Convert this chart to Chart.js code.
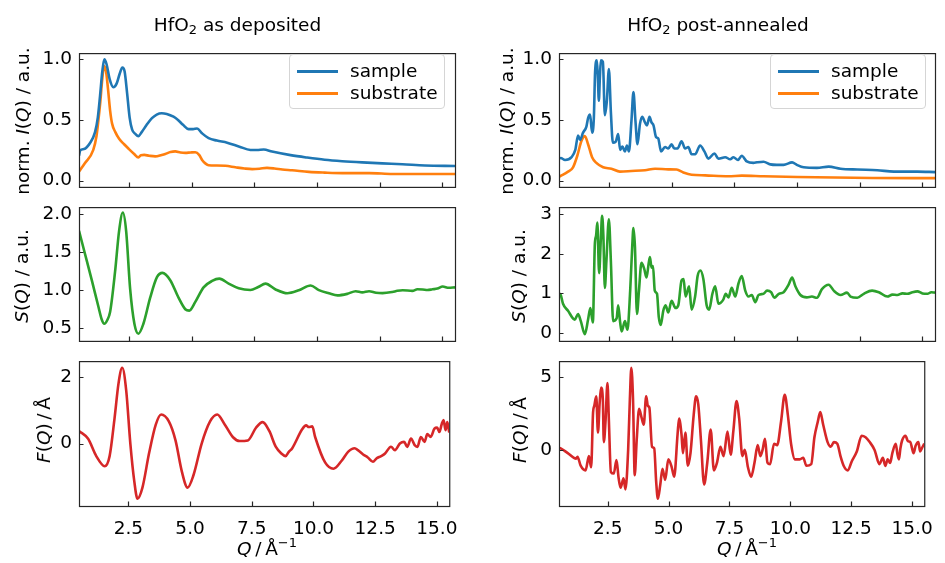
<!DOCTYPE html>
<html>
<head>
<meta charset="utf-8">
<script src="https://cdn.jsdelivr.net/npm/chart.js@4/dist/chart.umd.min.js"></script>
<style>
  html, body { margin: 0; padding: 0; background: #fff; }
  #fig { position: relative; width: 945px; height: 563px; overflow: hidden; font-family: "DejaVu Sans", sans-serif; font-size: 18.5px; color: #000; }
  .box { position: absolute; }
  .lbl { position: absolute; white-space: nowrap; line-height: 22px; transform: translate(-50%, -50%); }
  .rot { transform: translate(-50%, -50%) rotate(-90deg); }
  .legend { position: absolute; width: 156px; height: 55px; box-sizing: border-box; border: 1px solid #d5d5d5; border-radius: 4px; background: rgba(255,255,255,0.8); }
  .legend .ln { position: absolute; left: 7px; width: 41px; height: 3px; }
  .legend .tx { position: absolute; left: 60px; line-height: 22px; transform: translateY(-50%); }
  sub { font-size: 13px; vertical-align: -3px; line-height: 0; }
  sup { font-size: 13px; vertical-align: 8px; line-height: 0; }
</style>
</head>
<body>
<div id="fig"></div>
<script>
// Q axis (same for every panel)
const qMin = 0.5, qMax = 15.5;
const qTicks = [2.5, 5, 7.5, 10, 12.5, 15];

// tick values per panel
const ticksI = [0, 0.5, 1.0];
const ticksDepS = [0.5, 1.0, 1.5, 2.0];
const ticksAnnS = [0, 1, 2, 3];
const ticksDepF = [0, 2];
const ticksAnnF = [0, 5];

// HfO2 as deposited: [Q, value]
const depSample = [[0.5,0.205],[0.55,0.25],[0.7,0.26],[0.94,0.31],[1.14,0.40],[1.25,0.52],[1.34,0.70],[1.43,0.90],[1.51,1.0],[1.6,0.96],[1.72,0.84],[1.87,0.77],[2.0,0.80],[2.12,0.88],[2.23,0.933],[2.32,0.90],[2.42,0.72],[2.52,0.52],[2.62,0.42],[2.75,0.385],[2.87,0.367],[3.0,0.40],[3.2,0.46],[3.41,0.515],[3.6,0.545],[3.8,0.556],[4.0,0.55],[4.27,0.527],[4.45,0.50],[4.65,0.46],[4.87,0.425],[5.05,0.425],[5.21,0.43],[5.41,0.39],[5.67,0.35],[6.0,0.33],[6.41,0.313],[6.9,0.28],[7.34,0.253],[7.6,0.252],[7.87,0.256],[8.2,0.24],[8.94,0.21],[9.6,0.19],[10.3,0.172],[11.0,0.16],[11.8,0.15],[12.6,0.142],[13.4,0.135],[14.3,0.125],[15.5,0.12]];
const depSubstrate = [[0.5,0.074],[0.74,0.145],[1.07,0.253],[1.2,0.37],[1.27,0.49],[1.35,0.65],[1.42,0.82],[1.5,0.945],[1.58,0.90],[1.66,0.75],[1.74,0.58],[1.82,0.47],[1.95,0.40],[2.1,0.345],[2.3,0.30],[2.47,0.265],[2.7,0.22],[2.87,0.191],[2.97,0.21],[3.1,0.212],[3.3,0.205],[3.54,0.20],[3.8,0.212],[3.94,0.22],[4.15,0.236],[4.34,0.241],[4.55,0.232],[4.74,0.229],[4.95,0.232],[5.14,0.234],[5.3,0.21],[5.41,0.17],[5.55,0.14],[5.67,0.127],[6.0,0.125],[6.34,0.122],[6.74,0.11],[7.1,0.1],[7.41,0.095],[7.7,0.098],[8.0,0.105],[8.3,0.1],[8.61,0.091],[9.0,0.085],[9.67,0.072],[10.3,0.066],[11.01,0.062],[12.07,0.062],[13.0,0.055],[14.2,0.054],[15.5,0.055]];
const depS = [[0.5,1.78],[0.74,1.475],[1.01,1.13],[1.27,0.787],[1.4,0.62],[1.51,0.557],[1.62,0.6],[1.74,0.71],[1.94,1.245],[2.1,1.78],[2.25,2.02],[2.38,1.78],[2.54,1.016],[2.71,0.557],[2.87,0.425],[3.07,0.557],[3.34,0.9],[3.61,1.17],[3.83,1.226],[4.14,1.13],[4.47,0.9],[4.74,0.748],[4.9,0.73],[5.14,0.844],[5.47,1.035],[5.81,1.12],[6.1,1.15],[6.47,1.085],[6.87,1.023],[7.34,1.0],[7.65,1.04],[7.94,1.085],[8.34,1.008],[8.81,0.958],[9.27,0.997],[9.74,1.06],[10.07,1.0],[10.47,0.958],[10.81,0.93],[11.2,0.95],[11.54,0.985],[11.8,0.97],[12.07,0.985],[12.35,0.965],[12.61,0.96],[13.0,0.975],[13.2,0.99],[13.41,0.997],[13.8,0.99],[14.0,1.01],[14.21,1.008],[14.4,1.0],[14.6,1.01],[14.8,1.02],[15.01,1.046],[15.25,1.03],[15.5,1.035]];
const depF = [[0.5,0.38],[0.87,0.143],[1.2,-0.38],[1.54,-0.686],[1.74,-0.38],[1.94,0.76],[2.1,1.81],[2.25,2.29],[2.41,1.62],[2.58,0],[2.74,-1.14],[2.87,-1.667],[3.07,-1.33],[3.34,-0.286],[3.61,0.571],[3.83,0.876],[4.14,0.667],[4.41,0.095],[4.67,-0.857],[4.9,-1.33],[5.14,-0.95],[5.47,0],[5.81,0.667],[6.1,0.876],[6.41,0.57],[6.74,0.19],[7.01,0.076],[7.34,0.095],[7.67,0.476],[7.94,0.648],[8.21,0.38],[8.47,-0.095],[8.7,-0.3],[8.87,-0.38],[9.0,-0.25],[9.14,-0.14],[9.54,0.43],[9.7,0.55],[9.81,0.5],[9.95,0.52],[10.07,0.19],[10.47,-0.57],[10.81,-0.76],[11.14,-0.52],[11.4,-0.25],[11.67,-0.14],[11.8,-0.2],[12.01,-0.33],[12.2,-0.42],[12.41,-0.55],[12.55,-0.45],[12.74,-0.38],[12.9,-0.3],[13.14,-0.095],[13.3,-0.2],[13.5,0.0],[13.67,0.05],[13.8,-0.1],[13.95,0.15],[14.1,-0.05],[14.21,-0.1],[14.35,0.2],[14.5,0.05],[14.61,0.286],[14.75,0.2],[14.9,0.45],[15.01,0.48],[15.1,0.35],[15.2,0.6],[15.27,0.71],[15.35,0.4],[15.42,0.65],[15.5,0.33]];

// HfO2 post-annealed: [Q, value]
const annSample = [[0.5,0.18],[0.57,0.186],[0.74,0.17],[1.0,0.193],[1.15,0.253],[1.26,0.372],[1.34,0.336],[1.46,0.396],[1.59,0.444],[1.66,0.515],[1.74,0.544],[1.82,0.396],[1.89,0.515],[1.94,0.897],[2.01,0.993],[2.05,0.85],[2.09,0.659],[2.13,0.85],[2.17,0.993],[2.25,0.98],[2.33,0.539],[2.41,0.659],[2.49,0.921],[2.57,0.563],[2.65,0.313],[2.76,0.32],[2.86,0.384],[2.94,0.253],[3.03,0.281],[3.13,0.241],[3.21,0.29],[3.29,0.241],[3.39,0.492],[3.47,0.73],[3.55,0.492],[3.63,0.3],[3.73,0.468],[3.82,0.527],[3.93,0.48],[4.01,0.456],[4.11,0.527],[4.19,0.48],[4.27,0.456],[4.37,0.36],[4.46,0.348],[4.57,0.241],[4.73,0.277],[4.86,0.265],[4.99,0.30],[5.1,0.265],[5.23,0.265],[5.39,0.325],[5.53,0.265],[5.66,0.277],[5.79,0.217],[5.93,0.217],[6.13,0.29],[6.3,0.241],[6.46,0.181],[6.7,0.224],[6.86,0.181],[7.13,0.193],[7.33,0.176],[7.46,0.193],[7.64,0.17],[7.79,0.205],[7.99,0.158],[8.26,0.146],[8.4,0.151],[8.66,0.156],[8.93,0.134],[9.19,0.13],[9.46,0.13],[9.8,0.15],[9.99,0.13],[10.26,0.11],[10.79,0.105],[11.26,0.115],[11.73,0.098],[12.4,0.091],[13.2,0.086],[13.86,0.074],[14.8,0.074],[15.5,0.07]];
const annSubstrate = [[0.5,0.03],[0.57,0.038],[0.86,0.074],[1.06,0.11],[1.23,0.205],[1.39,0.325],[1.53,0.367],[1.66,0.30],[1.82,0.193],[1.99,0.146],[2.26,0.11],[2.59,0.098],[2.93,0.074],[3.39,0.079],[3.93,0.086],[4.33,0.098],[4.86,0.093],[5.19,0.091],[5.46,0.067],[5.79,0.048],[6.33,0.043],[7.26,0.036],[7.79,0.041],[8.66,0.036],[10.0,0.03],[11.5,0.025],[13.0,0.022],[15.5,0.02]];
const annS = [[0.5,1.0],[0.57,0.96],[0.66,0.74],[0.86,0.56],[1.13,0.338],[1.26,0.48],[1.37,0.30],[1.53,-0.03],[1.66,0.34],[1.75,0.63],[1.85,0.265],[1.93,2.24],[1.98,2.46],[2.03,2.79],[2.1,1.51],[2.17,2.39],[2.22,2.96],[2.27,2.46],[2.33,1.14],[2.39,1.8],[2.49,2.87],[2.57,1.8],[2.66,0.30],[2.8,0.37],[2.86,0.70],[2.94,0.265],[3.0,0.04],[3.13,0.30],[3.23,0.08],[3.34,1.07],[3.42,2.17],[3.47,2.65],[3.53,2.17],[3.61,0.48],[3.69,1.07],[3.79,1.77],[3.9,1.62],[3.99,1.40],[4.08,1.77],[4.13,1.92],[4.19,1.65],[4.25,1.69],[4.32,1.07],[4.41,0.99],[4.48,0.41],[4.56,0.20],[4.66,0.56],[4.75,0.70],[4.86,0.52],[4.99,0.81],[5.15,0.63],[5.26,0.70],[5.39,1.33],[5.47,1.36],[5.55,0.92],[5.69,1.18],[5.79,0.59],[5.93,0.92],[6.03,1.44],[6.14,1.58],[6.26,1.36],[6.39,0.70],[6.49,0.59],[6.62,0.99],[6.73,1.18],[6.86,0.74],[7.06,0.85],[7.15,0.99],[7.26,0.90],[7.39,1.14],[7.53,0.92],[7.66,1.25],[7.79,1.44],[7.93,1.07],[8.06,0.92],[8.19,0.96],[8.33,0.78],[8.46,0.96],[8.66,0.99],[8.8,1.07],[8.96,1.03],[9.09,0.89],[9.27,0.99],[9.46,1.03],[9.66,1.22],[9.8,1.40],[9.93,1.18],[10.13,0.96],[10.39,0.90],[10.59,0.92],[10.79,0.89],[10.99,1.11],[11.26,1.22],[11.46,1.07],[11.73,0.96],[11.99,1.02],[12.13,0.92],[12.4,0.89],[12.66,0.99],[12.99,1.07],[13.26,1.03],[13.6,0.92],[13.8,0.97],[14.0,0.96],[14.2,1.0],[14.4,0.99],[14.6,1.03],[14.8,1.05],[15.0,1.0],[15.2,0.99],[15.35,1.03],[15.5,1.02]];
const annF = [[0.5,0.15],[0.57,0.11],[0.86,-0.22],[1.2,-0.6],[1.26,-0.47],[1.39,-1.09],[1.59,-1.41],[1.73,-0.43],[1.82,-1.2],[1.9,2.61],[1.95,3.04],[2.03,3.70],[2.1,1.2],[2.17,3.26],[2.23,4.31],[2.3,3.48],[2.34,0.54],[2.41,1.96],[2.49,4.61],[2.55,1.96],[2.63,-1.52],[2.75,-1.63],[2.86,-0.7],[2.95,-1.96],[3.03,-2.61],[3.15,-1.96],[3.23,-2.72],[3.34,0],[3.41,3.48],[3.47,5.66],[3.54,3.48],[3.61,-1.74],[3.69,0.65],[3.79,2.83],[3.9,2.17],[3.98,1.74],[4.08,3.70],[4.15,3.04],[4.21,2.93],[4.32,0.22],[4.41,0.11],[4.49,-2.17],[4.56,-3.37],[4.66,-2.39],[4.75,-1.3],[4.86,-2.07],[4.99,-0.65],[5.13,-1.2],[5.23,-1.85],[5.37,1.09],[5.43,2.17],[5.53,1.09],[5.59,-0.22],[5.69,1.2],[5.79,-1.09],[5.9,-0.22],[6.03,2.39],[6.13,3.70],[6.22,3.15],[6.33,0.65],[6.46,-2.39],[6.59,-0.87],[6.73,1.41],[6.86,-1.41],[6.99,-0.87],[7.13,0.22],[7.26,-0.43],[7.42,1.26],[7.55,-0.33],[7.66,1.3],[7.79,3.37],[7.9,2.17],[8.03,-0.43],[8.13,0],[8.26,-1.2],[8.39,-1.85],[8.53,-0.87],[8.66,0.33],[8.77,-0.43],[8.86,0],[8.96,0.76],[9.06,-0.87],[9.17,-0.98],[9.33,0.43],[9.46,0.33],[9.62,1.96],[9.77,3.81],[9.9,2.39],[10.03,0.43],[10.19,-0.65],[10.39,-0.65],[10.53,-0.54],[10.66,-1.09],[10.86,-0.98],[10.99,0.87],[11.13,1.96],[11.23,2.61],[11.35,1.74],[11.53,0.54],[11.66,0.22],[11.79,0.54],[11.93,0.43],[12.06,-0.43],[12.19,-1.09],[12.36,-1.41],[12.53,-0.76],[12.73,-0.11],[12.93,0.98],[13.09,0.87],[13.26,0.54],[13.46,0],[13.66,-0.98],[13.8,-0.54],[13.9,-1.1],[14.0,-0.65],[14.1,-0.9],[14.19,-0.22],[14.33,0.43],[14.4,-0.3],[14.46,-0.65],[14.52,0.1],[14.59,0.65],[14.73,0.98],[14.83,0.6],[14.93,0.54],[15.0,0.1],[15.06,-0.22],[15.15,0.3],[15.26,0.54],[15.33,-0.1],[15.4,0.11],[15.5,0.43]];

const colors = { blue: '#1f77b4', orange: '#ff7f0e', green: '#2ca02c', red: '#d62728' };

Chart.defaults.font.family = "'DejaVu Sans', sans-serif";
Chart.defaults.font.size = 18.5;
Chart.defaults.color = '#000';

// inward ticks and the box around each panel
const framePlugin = {
  id: 'frame',
  afterDraw(chart) {
    const ctx = chart.ctx;
    const a = chart.chartArea;
    const xs = chart.scales.x, ys = chart.scales.y;
    ctx.save();
    ctx.strokeStyle = '#262626';
    ctx.lineWidth = 1.2;
    ctx.beginPath();
    xs.ticks.forEach(t => {
      const px = Math.round(xs.getPixelForValue(t.value)) + 0.5;
      ctx.moveTo(px, a.bottom);
      ctx.lineTo(px, a.bottom - 4.5);
    });
    ys.ticks.forEach(t => {
      const py = Math.round(ys.getPixelForValue(t.value)) + 0.5;
      ctx.moveTo(a.left, py);
      ctx.lineTo(a.left + 4.5, py);
    });
    ctx.stroke();
    ctx.strokeRect(a.left + 0.5, a.top + 0.5, a.right - a.left, a.bottom - a.top);
    ctx.restore();
  }
};

const fig = document.getElementById('fig');

function line(pairs, color) {
  return {
    data: pairs.map(p => ({ x: p[0], y: p[1] })),
    borderColor: color,
    borderWidth: 2.6,
    pointRadius: 0,
    cubicInterpolationMode: 'monotone',
    fill: false
  };
}

function panel(p) {
  const padTop = 10;
  const W = p.colW;
  const H = padTop + (p.bottom - p.top) + p.xH;
  const div = document.createElement('div');
  div.className = 'box';
  div.style.left = p.colLeft + 'px';
  div.style.top = (p.top - padTop) + 'px';
  div.style.width = W + 'px';
  div.style.height = H + 'px';
  const cv = document.createElement('canvas');
  cv.width = W;
  cv.height = H;
  div.appendChild(cv);
  fig.appendChild(div);

  new Chart(cv.getContext('2d'), {
    type: 'line',
    data: { datasets: p.datasets },
    options: {
      responsive: false,
      animation: false,
      events: [],
      layout: { padding: { top: padTop, left: 0, bottom: 0, right: W - (p.right - p.colLeft) } },
      plugins: { legend: { display: false }, tooltip: { enabled: false } },
      scales: {
        x: {
          type: 'linear', min: qMin, max: qMax,
          grid: { display: false, drawTicks: false },
          border: { display: false },
          ticks: { display: p.xLabels, padding: 12, callback: v => v.toFixed(1) },
          afterBuildTicks: s => { s.ticks = qTicks.map(v => ({ value: v })); },
          afterFit: s => { s.height = p.xH; }
        },
        y: {
          type: 'linear', min: p.yMin, max: p.yMax,
          grid: { display: false, drawTicks: false },
          border: { display: false },
          ticks: { padding: 7, callback: v => v.toFixed(p.dec) },
          afterBuildTicks: s => { s.ticks = p.yTicks.map(v => ({ value: v })); },
          afterFit: s => { s.width = p.left - p.colLeft; }
        }
      }
    },
    plugins: [framePlugin]
  });
}

const cols = [
  { colLeft: 0, colW: 470, left: 79, right: 455 },
  { colLeft: 470, colW: 475, left: 559, right: 935 }
];
const rows = [
  { top: 45, bottom: 199, xH: 6, xLabels: false },
  { top: 199, bottom: 353, xH: 6, xLabels: false },
  { top: 353, bottom: 506, xH: 57, xLabels: true }
];

const panels = [
  [0, 0, { yMin: -0.052, yMax: 1.052, yTicks: ticksI, dec: 1, datasets: [line(depSample, colors.blue), line(depSubstrate, colors.orange)] }],
  [0, 1, { yMin: 0.331, yMax: 2.092, yTicks: ticksDepS, dec: 1, datasets: [line(depS, colors.green)] }],
  [0, 2, { yMin: -1.886, yMax: 2.49, yTicks: ticksDepF, dec: 0, datasets: [line(depF, colors.red)] }],
  [1, 0, { yMin: -0.052, yMax: 1.052, yTicks: ticksI, dec: 1, datasets: [line(annSample, colors.blue), line(annSubstrate, colors.orange)] }],
  [1, 1, { yMin: -0.2, yMax: 3.18, yTicks: ticksAnnS, dec: 0, datasets: [line(annS, colors.green)] }],
  [1, 2, { yMin: -3.87, yMax: 6.13, yTicks: ticksAnnF, dec: 0, datasets: [line(annF, colors.red)] }]
];
panels.forEach(([c, r, o]) => panel(Object.assign({}, cols[c], rows[r], o)));

// text: titles, axis labels, legends
function text(html, x, y, rotated) {
  const d = document.createElement('div');
  d.className = 'lbl' + (rotated ? ' rot' : '');
  d.style.left = x + 'px';
  d.style.top = y + 'px';
  d.innerHTML = html;
  fig.appendChild(d);
}
text('HfO<sub>2</sub> as deposited', 237.5, 25);
text('HfO<sub>2</sub> post-annealed', 718, 25);
text('norm. <i>I</i>(<i>Q</i>) / a.u.', 22.5, 121, true);
text('<i>S</i>(<i>Q</i>) / a.u.', 22, 276, true);
text('<i>F</i>(<i>Q</i>)&thinsp;/&thinsp;Å', 44, 430, true);
text('norm. <i>I</i>(<i>Q</i>) / a.u.', 507, 121, true);
text('<i>S</i>(<i>Q</i>) / a.u.', 519, 276, true);
text('<i>F</i>(<i>Q</i>)&thinsp;/&thinsp;Å', 520, 430, true);
text('<i>Q</i>&thinsp;/&thinsp;Å<sup>−1</sup>', 267, 549);
text('<i>Q</i>&thinsp;/&thinsp;Å<sup>−1</sup>', 747, 549);

function legend(x, y) {
  const d = document.createElement('div');
  d.className = 'legend';
  d.style.left = x + 'px';
  d.style.top = y + 'px';
  d.innerHTML =
    '<span class="ln" style="top:14.5px;background:' + colors.blue + '"></span><span class="tx" style="top:16px">sample</span>' +
    '<span class="ln" style="top:36.5px;background:' + colors.orange + '"></span><span class="tx" style="top:38px">substrate</span>';
  fig.appendChild(d);
}
legend(289, 54);
legend(770, 54);
</script>
</body>
</html>
